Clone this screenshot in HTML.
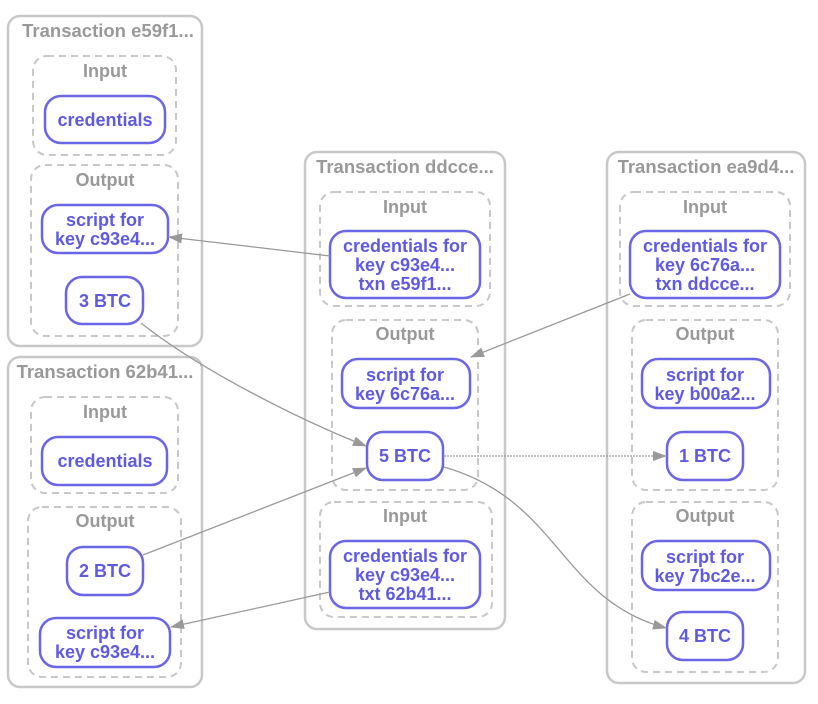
<!DOCTYPE html>
<html><head><meta charset="utf-8"><style>
html,body{margin:0;padding:0;background:#fff;}
svg{display:block;font-family:"Liberation Sans",Arial,sans-serif;font-weight:bold;}
.o{fill:none;stroke:#c8c8c8;stroke-width:2.5;}
.d{fill:none;stroke:#c8c8c8;stroke-width:2;stroke-dasharray:7,5;}
.n{fill:#fff;stroke:#6b66e6;stroke-width:2.5;}
.t{fill:#999;font-size:18.5px;text-anchor:middle;}
.l{fill:#999;font-size:18px;text-anchor:middle;}
.x{fill:#5f5ae0;font-size:18px;text-anchor:middle;}
.e{fill:none;stroke:#999;stroke-width:1.3;}
</style></head><body>
<svg width="818" height="704" viewBox="0 0 818 704">
<defs><marker id="a" markerWidth="14" markerHeight="10" refX="13" refY="5" orient="auto" markerUnits="userSpaceOnUse"><path d="M0,0 L14,5 L0,10z" fill="#999"/></marker></defs>

<!-- T1 -->
<rect class="o" x="8" y="16" width="194" height="330" rx="12"/>
<text class="t" x="108" y="37">Transaction e59f1...</text>
<rect class="d" x="33" y="56" width="143" height="99" rx="14"/>
<text class="l" x="105" y="77">Input</text>
<rect class="n" x="45" y="96" width="120" height="47" rx="16"/>
<text class="x" x="105" y="126">credentials</text>
<rect class="d" x="31" y="165" width="147" height="171" rx="14"/>
<text class="l" x="105" y="186">Output</text>
<rect class="n" x="42" y="205" width="126" height="48" rx="16"/>
<text class="x" x="105" y="226">script for</text><text class="x" x="105" y="245">key c93e4...</text>
<rect class="n" x="66" y="277" width="77" height="47" rx="16"/>
<text class="x" x="105" y="307">3 BTC</text>

<!-- T2 -->
<rect class="o" x="8" y="357" width="194" height="330" rx="12"/>
<text class="t" x="105" y="378">Transaction 62b41...</text>
<rect class="d" x="31" y="397" width="147" height="96" rx="14"/>
<text class="l" x="105" y="418">Input</text>
<rect class="n" x="42" y="437" width="125" height="48" rx="16"/>
<text class="x" x="105" y="467">credentials</text>
<rect class="d" x="28" y="507" width="153" height="170" rx="14"/>
<text class="l" x="105" y="527">Output</text>
<rect class="n" x="67" y="547" width="76" height="48" rx="16"/>
<text class="x" x="105" y="577">2 BTC</text>
<rect class="n" x="40" y="618" width="130" height="49" rx="16"/>
<text class="x" x="105" y="639">script for</text><text class="x" x="105" y="658">key c93e4...</text>

<!-- T3 -->
<rect class="o" x="305" y="152" width="200" height="477" rx="12"/>
<text class="t" x="405" y="173">Transaction ddcce...</text>
<rect class="d" x="320" y="192" width="170" height="114" rx="14"/>
<text class="l" x="405" y="213">Input</text>
<rect class="n" x="330" y="231" width="150" height="67" rx="16"/>
<text class="x" x="405" y="252">credentials for</text><text class="x" x="405" y="271">key c93e4...</text><text class="x" x="405" y="290">txn e59f1...</text>
<rect class="d" x="332" y="320" width="146" height="170" rx="14"/>
<text class="l" x="405" y="340">Output</text>
<rect class="n" x="342" y="359" width="128" height="49" rx="16"/>
<text class="x" x="405" y="381">script for</text><text class="x" x="405" y="400">key 6c76a...</text>
<rect class="n" x="367" y="432" width="76" height="48" rx="16"/>
<text class="x" x="405" y="462">5 BTC</text>
<rect class="d" x="320" y="502" width="172" height="115" rx="14"/>
<text class="l" x="405" y="522">Input</text>
<rect class="n" x="330" y="541" width="150" height="67" rx="16"/>
<text class="x" x="405" y="562">credentials for</text><text class="x" x="405" y="581">key c93e4...</text><text class="x" x="405" y="600">txt 62b41...</text>

<!-- T4 -->
<rect class="o" x="607" y="152" width="198" height="531" rx="12"/>
<text class="t" x="706" y="173">Transaction ea9d4...</text>
<rect class="d" x="620" y="192" width="170" height="114" rx="14"/>
<text class="l" x="705" y="213">Input</text>
<rect class="n" x="630" y="231" width="150" height="67" rx="16"/>
<text class="x" x="705" y="252">credentials for</text><text class="x" x="705" y="271">key 6c76a...</text><text class="x" x="705" y="290">txn ddcce...</text>
<rect class="d" x="632" y="320" width="146" height="170" rx="14"/>
<text class="l" x="705" y="340">Output</text>
<rect class="n" x="642" y="359" width="128" height="49" rx="16"/>
<text class="x" x="705" y="381">script for</text><text class="x" x="705" y="400">key b00a2...</text>
<rect class="n" x="667" y="432" width="76" height="48" rx="16"/>
<text class="x" x="705" y="462">1 BTC</text>
<rect class="d" x="632" y="502" width="146" height="170" rx="14"/>
<text class="l" x="705" y="522">Output</text>
<rect class="n" x="642" y="541" width="128" height="49" rx="16"/>
<text class="x" x="705" y="563">script for</text><text class="x" x="705" y="582">key 7bc2e...</text>
<rect class="n" x="667" y="612" width="76" height="48" rx="16"/>
<text class="x" x="705" y="642">4 BTC</text>

<!-- edges -->
<path class="e" d="M330,256 L169,237" marker-end="url(#a)"/>
<path class="e" d="M141,323 C200,370 300,420 366,446" marker-end="url(#a)"/>
<path class="e" d="M143,555 L366,468" marker-end="url(#a)"/>
<path class="e" d="M330,592 L171,627" marker-end="url(#a)"/>
<path class="e" d="M630,294 L471,357" marker-end="url(#a)"/>
<path class="e" d="M444,456 L666,456" stroke-dasharray="2,1" marker-end="url(#a)"/>
<path class="e" d="M444,467 C560,500 560,600 666,628" marker-end="url(#a)"/>
</svg>
</body></html>
